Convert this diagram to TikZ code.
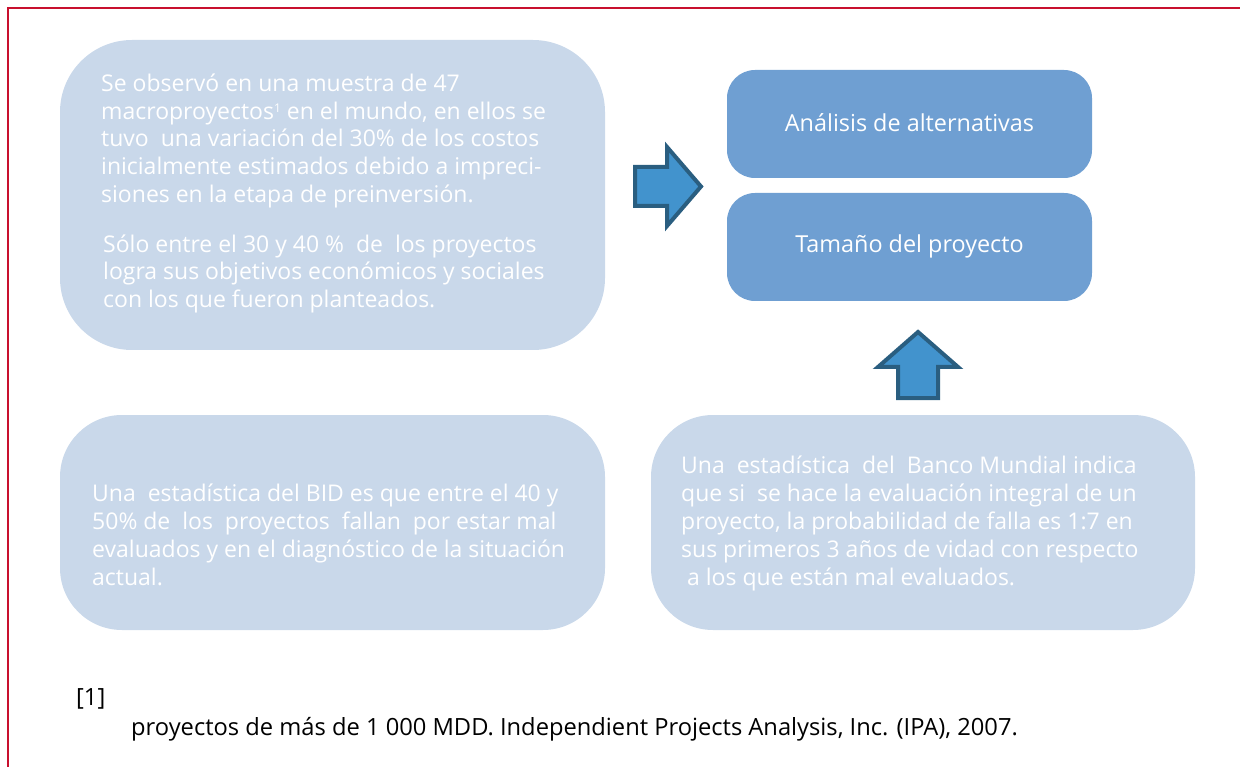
\documentclass[tikz,border=0pt]{standalone}
\usepackage{fontspec}
\setmainfont{Open Sans}
\definecolor{boxlight}{HTML}{C9D8EA}
\definecolor{boxdark}{HTML}{6F9FD2}
\definecolor{arrfill}{HTML}{4293CD}
\definecolor{arredge}{HTML}{2A5E80}
\definecolor{frame}{HTML}{C8102E}
\newcommand{\supone}{\raisebox{0.55ex}{\fontsize{12}{12}\selectfont 1}}
\tikzset{
  lightbox/.style={fill=boxlight, draw=none, rounded corners=#1},
  darkbox/.style={fill=boxdark, draw=none, rounded corners=28pt, minimum width=365pt, minimum height=108pt},
  darktext/.style={anchor=base, inner sep=0pt, text=white, font=\fontsize{23.4}{28}\selectfont},
  para/.style={anchor=base west, align=left, inner sep=0pt, text=white, font=\fontsize{23}{27.8}\selectfont},
  foot/.style={anchor=base west, inner sep=0pt, text=black, font=\fontsize{23.7}{28}\selectfont},
  blockarrow/.style={fill=arrfill, draw=arredge, line width=4pt, line join=miter}
}
\begin{document}
\begin{tikzpicture}[x=1pt,y=-1pt]
\useasboundingbox (0,0) rectangle (1240,767);
% frame
\draw[frame, line width=2.5pt] (8,767) -- (8,8) -- (1240,8);
% light boxes
\fill[lightbox=72pt] (60,40) rectangle (605,350);
\fill[lightbox=62pt] (60,415) rectangle (605,630);
\fill[lightbox=62pt] (651,415) rectangle (1195,630);
% dark boxes
\node[darkbox] (alt) at (909.5,124) {};
\node[darktext] (altt) at (909.5,131.7) {Análisis de alternativas};
\node[darkbox] (tam) at (909.5,247) {};
\node[darktext] (tamt) at (909.5,253) {Tamaño del proyecto};
% texts (anchored at the baseline of the last line)
\node[para] (t1) at (101,202.5) {Se observó en una muestra de 47\\macroproyectos\supone{} en el mundo, en ellos se\\tuvo\ \ una variación del 30\% de los costos\\inicialmente estimados debido a impreci-\\siones en la etapa de preinversión.};
\node[para] (t2) at (103,307.7) {Sólo entre el 30 y 40 \%\ \ de\ \ los proyectos\\logra sus objetivos económicos y sociales\\con los que fueron planteados.};
\node[para] (t3) at (92,585) {Una\ \ estadística del BID es que entre el 40 y\\50\% de\ \ los\ \ proyectos\ \ fallan\ \ por estar mal\\evaluados y en el diagnóstico de la situación\\actual.};
\node[para] (t4) at (681,585) {Una\ \ estadística\ \ del\ \ Banco Mundial indica\\que si\ \ se hace la evaluación integral de un\\proyecto, la probabilidad de falla es 1:7 en\\sus primeros 3 años de vidad con respecto\\\ a los que están mal evaluados.};
% arrows
\draw[blockarrow] (635,167) -- (667,167) -- (667,147) -- (701,186.5) -- (667,226) -- (667,206) -- (635,206) -- cycle;
\draw[blockarrow] (898,398) -- (898,367) -- (878,367) -- (918,332) -- (958,367) -- (938,367) -- (938,398) -- cycle;
% footnote
\node[foot] (f1) at (76,705) {[1]};
\node[foot] (f2) at (131,735) {proyectos de más de 1 000 MDD. Independient Projects Analysis, Inc. (IPA), 2007.};
\end{tikzpicture}
\end{document}
